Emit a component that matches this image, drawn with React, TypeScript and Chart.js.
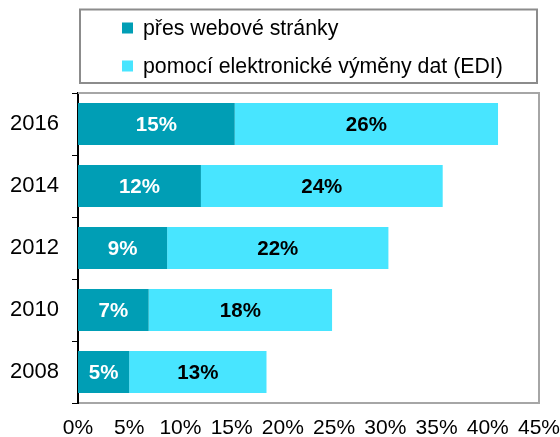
import React, { useEffect, useRef } from "react";
import { Chart, registerables } from "chart.js";

Chart.register(...registerables);

const categories = ["2016", "2014", "2012", "2010", "2008"];
const webValues = [15.3, 12.0, 8.7, 6.9, 5.0];
const ediValues = [25.7, 23.6, 21.6, 17.9, 13.4];
const seriesNames = ["přes webové stránky", "pomocí elektronické výměny dat (EDI)"];
const xTickMax = 45;
const xTickStep = 5;

const DARK = "#009EB5";
const LIGHT = "#48E5FF";
const FONT = "'Liberation Sans', Arial, sans-serif";

const boxPlugin = {
  id: "boxPlugin",
  beforeDatasetsDraw(chart: any) {
    const { ctx, chartArea } = chart;
    ctx.save();
    ctx.strokeStyle = "#a6a6a6";
    ctx.lineWidth = 2;
    ctx.beginPath();
    ctx.moveTo(chartArea.left, chartArea.top);
    ctx.lineTo(chartArea.right, chartArea.top);
    ctx.lineTo(chartArea.right, chartArea.bottom);
    ctx.stroke();
    ctx.restore();
  },
};

const labelPlugin = {
  id: "labelPlugin",
  afterDatasetsDraw(chart: any) {
    const { ctx } = chart;
    ctx.save();
    ctx.font = `bold 20.5px ${FONT}`;
    ctx.textAlign = "center";
    ctx.textBaseline = "middle";
    chart.data.datasets.forEach((ds: any, di: number) => {
      const meta = chart.getDatasetMeta(di);
      meta.data.forEach((el: any, i: number) => {
        const v = ds.data[i];
        const cx = (el.x + el.base) / 2;
        ctx.fillStyle = di === 0 ? "#ffffff" : "#000000";
        ctx.fillText(Math.round(v) + "%", cx, el.y + 1);
      });
    });
    ctx.restore();
  },
};

const legendPlugin = {
  id: "legendBox",
  afterDraw(chart: any) {
    const { ctx } = chart;
    ctx.save();
    ctx.strokeStyle = "#8c8c8c";
    ctx.lineWidth = 2;
    ctx.strokeRect(80, 9.5, 457, 73.5);
    const colors = [DARK, LIGHT];
    const ys = [28, 66];
    ctx.font = `21.3px ${FONT}`;
    ctx.textBaseline = "middle";
    ctx.textAlign = "left";
    seriesNames.forEach((name, i) => {
      ctx.fillStyle = colors[i];
      ctx.fillRect(122, ys[i] - 5.5, 11, 11);
      ctx.fillStyle = "#000";
      ctx.fillText(name, 143, ys[i] + 1);
    });
    ctx.restore();
  },
};

export default function App() {
  const ref = useRef<HTMLCanvasElement>(null);
  useEffect(() => {
    document.body.style.margin = "0";
    const chart = new Chart(ref.current!, {
      type: "bar",
      data: {
        labels: categories,
        datasets: [
          { label: seriesNames[0], data: webValues, backgroundColor: DARK, barPercentage: 0.68, categoryPercentage: 1 },
          { label: seriesNames[1], data: ediValues, backgroundColor: LIGHT, barPercentage: 0.68, categoryPercentage: 1 },
        ],
      },
      options: {
        indexAxis: "y",
        responsive: false,
        animation: false,
        layout: { padding: { top: 93, right: 21, left: 0, bottom: 0 } },
        plugins: { legend: { display: false }, tooltip: { enabled: false } },
        scales: {
          x: {
            stacked: true,
            min: 0,
            max: xTickMax,
            grid: { display: false, drawTicks: false },
            border: { display: true, color: "#a6a6a6", width: 2 },
            ticks: {
              stepSize: xTickStep,
              padding: 13,
              color: "#000",
              font: { family: FONT, size: 21 },
              callback: (v: any) => v + "%",
            },
            afterFit: (s: any) => { s.height = 34; s.paddingRight = 0; s.paddingLeft = 0; },
          },
          y: {
            stacked: true,
            grid: { display: true, drawOnChartArea: false, drawTicks: true, tickLength: 6, color: "#000", lineWidth: 1, offset: true },
            border: { display: true, color: "#000", width: 2 },
            ticks: { padding: 13, color: "#000", font: { family: FONT, size: 22 } },
            afterFit: (s: any) => { s.width = 78; },
          },
        },
      },
      plugins: [boxPlugin, labelPlugin, legendPlugin],
    });
    return () => chart.destroy();
  }, []);
  return <canvas ref={ref} width={560} height={437} style={{ display: "block" }} />;
}
